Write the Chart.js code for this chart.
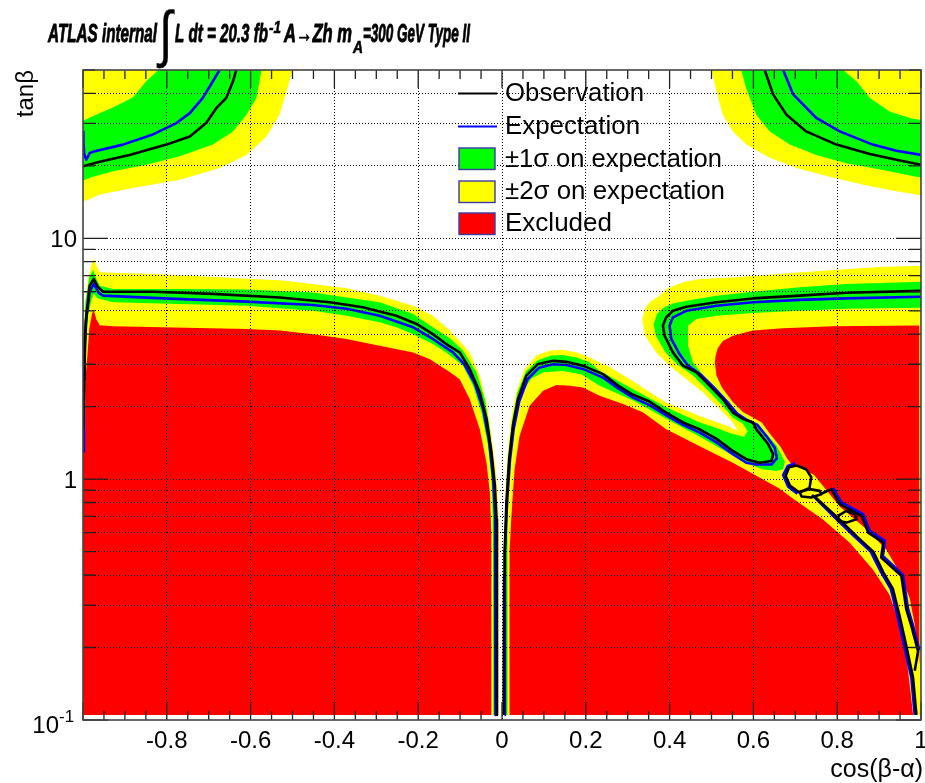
<!DOCTYPE html>
<html>
<head>
<meta charset="utf-8">
<script src="https://cdn.jsdelivr.net/npm/chart.js@4/dist/chart.umd.min.js"></script>
<style>
  html, body { margin: 0; padding: 0; background: #ffffff; }
  #wrap { width: 925px; height: 783px; }
</style>
</head>
<body>
<div id="wrap"><canvas id="c" width="925" height="783"></canvas></div>
<script>
// ---- axis ticks and labels ----
const xTickValues = [-0.8, -0.6, -0.4, -0.2, 0, 0.2, 0.4, 0.6, 0.8, 1];
const xTickLabels = ['-0.8', '-0.6', '-0.4', '-0.2', '0', '0.2', '0.4', '0.6', '0.8', '1'];
const xGridValues = [-0.8, -0.6, -0.4, -0.2, 0, 0.2, 0.4, 0.6, 0.8];
const yTickValues = [0.1, 1, 10];
const yTickLabels = [['10', '-1'], ['1', ''], ['10', '']];
const yGridValues = [0.2, 0.3, 0.4, 0.5, 0.6, 0.7, 0.8, 0.9, 1, 2, 3, 4, 5, 6, 7, 8, 9, 10, 20, 30, 40];

// ---- contours, points are [cos(beta-alpha), tan(beta)] ----
// top-left corner
const tlYellowArea = [[-1,50],[-0.50,50],[-0.515,40.3],[-0.531,32.6],[-0.562,26.5],[-0.61,22.2],[-0.674,19.6],[-0.769,17.5],[-0.888,16.1],[-0.96,15.2],[-0.99,14.4],[-1,14.3]];
const tlGreenArea = [[-0.574,50],[-0.586,38.3],[-0.61,32.6],[-0.642,27.8],[-0.69,24.5],[-0.769,21.9],[-0.849,20.2],[-0.928,19.0],[-0.976,18.0],[-1,17.4],[-1,30.8],[-0.977,32.1],[-0.929,34.9],[-0.881,38.4],[-0.849,44.9],[-0.82,50]];
const tlObserved = [[-0.634,50],[-0.642,44.9],[-0.658,38.3],[-0.682,34.7],[-0.706,30.1],[-0.745,26.5],[-0.801,24.5],[-0.889,22.2],[-0.96,20.8],[-1,19.9]];
const tlExpected = [[-0.674,50],[-0.69,44.9],[-0.714,38.3],[-0.745,33.1],[-0.777,30.1],[-0.833,27.0],[-0.905,24.5],[-0.976,22.9],[-0.984,22.6],[-0.992,21.2],[-0.997,22.3],[-0.999,25],[-0.999,28]];

// top-right corner
const trYellowArea = [[0.50,50],[0.512,40.6],[0.527,32.6],[0.551,27.8],[0.583,24.5],[0.639,21.6],[0.703,19.6],[0.782,18.0],[0.862,16.7],[0.941,15.7],[0.989,15.2],[1,15.1],[1,50]];
const trGreenArea = [[0.571,50],[0.583,41.9],[0.607,32.6],[0.639,27.8],[0.687,24.5],[0.75,22.2],[0.822,20.5],[0.909,19.2],[0.989,18.0],[1,17.9],[1,31.0],[0.973,31.6],[0.925,33.6],[0.878,38.3],[0.846,44.9],[0.814,50]];
const trObserved = [[0.627,50],[0.647,39.6],[0.679,32.6],[0.726,27.8],[0.798,24.5],[0.878,22.4],[0.941,21.2],[1,20.2]];
const trExpected = [[0.671,50],[0.695,39.6],[0.75,31.6],[0.806,27.8],[0.885,24.5],[0.941,23.1],[1,22.2]];

// left lobe (cos < 0)
const lYellowArea = [[-1,0.105],[-1,3.0],[-0.996,5.0],[-0.988,6.8],[-0.978,8.0],[-0.974,8.2],[-0.966,7.6],[-0.96,7.23],[-0.928,7.2],[-0.809,7.1],[-0.61,6.8],[-0.53,6.7],[-0.451,6.47],[-0.371,6.2],[-0.292,5.78],[-0.212,5.25],[-0.165,4.77],[-0.133,4.27],[-0.124,4.14],[-0.101,3.75],[-0.077,3.36],[-0.053,2.69],[-0.037,2.08],[-0.025,1.51],[-0.015,1.10],[-0.010,0.85],[-0.007,0.58],[-0.0085,0.45],[-0.0085,0.105]];
const lGreenArea = [[-1,0.105],[-1,3.5],[-0.994,5.5],[-0.985,6.9],[-0.976,7.4],[-0.968,6.8],[-0.96,6.36],[-0.928,6.16],[-0.769,6.16],[-0.61,6.13],[-0.451,5.96],[-0.371,5.68],[-0.292,5.43],[-0.212,4.85],[-0.165,4.27],[-0.124,3.85],[-0.093,3.42],[-0.061,2.78],[-0.041,2.15],[-0.029,1.61],[-0.019,1.10],[-0.0135,0.75],[-0.0095,0.58],[-0.0095,0.105]];
const lInnerYellowArea = [[-1,0.105],[-1,1.3],[-0.995,3.0],[-0.988,4.8],[-0.98,5.5],[-0.974,5.9],[-0.966,5.65],[-0.96,5.6],[-0.928,5.43],[-0.769,5.34],[-0.61,5.25],[-0.451,5.0],[-0.371,4.77],[-0.292,4.48],[-0.252,4.27],[-0.212,4.0],[-0.165,3.64],[-0.133,3.36],[-0.093,2.96],[-0.069,2.44],[-0.049,1.89],[-0.033,1.37],[-0.025,1.0],[-0.022,0.68],[-0.0205,0.105]];
const lRedArea = [[-1,0.105],[-1,1.25],[-0.995,1.6],[-0.995,2.5],[-0.99,3.2],[-0.985,4.2],[-0.978,4.9],[-0.974,5.0],[-0.968,4.6],[-0.96,4.36],[-0.928,4.31],[-0.61,4.2],[-0.53,4.14],[-0.451,4.0],[-0.371,3.82],[-0.292,3.58],[-0.212,3.36],[-0.172,3.15],[-0.124,2.78],[-0.101,2.6],[-0.077,2.15],[-0.053,1.61],[-0.037,1.17],[-0.029,0.88],[-0.0253,0.58],[-0.0253,0.105]];
const lObserved = [[-1,1.6],[-0.997,2.6],[-0.996,3.7],[-0.992,4.77],[-0.984,6.36],[-0.974,6.78],[-0.965,6.3],[-0.952,6.0],[-0.833,6.0],[-0.69,5.88],[-0.53,5.68],[-0.411,5.43],[-0.332,5.17],[-0.252,4.77],[-0.204,4.41],[-0.165,4.0],[-0.133,3.64],[-0.101,3.36],[-0.077,2.87],[-0.053,2.29],[-0.037,1.78],[-0.025,1.29],[-0.017,0.94],[-0.013,0.68],[-0.012,0.105]];
const lExpected = [[-1,1.3],[-0.998,2.5],[-0.993,4.5],[-0.984,6.0],[-0.974,6.47],[-0.963,5.95],[-0.952,5.78],[-0.809,5.63],[-0.61,5.46],[-0.451,5.29],[-0.371,5.1],[-0.292,4.77],[-0.212,4.27],[-0.165,3.82],[-0.117,3.36],[-0.09,3.0],[-0.065,2.5],[-0.045,1.95],[-0.031,1.45],[-0.021,1.0],[-0.0165,0.7],[-0.0155,0.105]];

// right lobe (cos > 0): hill, descending band, fold and upper band
const rYellowArea = [[0.002,0.105],[0.003,0.5],[0.0064,0.65],[0.0088,0.94],[0.014,1.29],[0.022,1.78],[0.034,2.29],[0.054,2.87],[0.082,3.26],[0.114,3.42],[0.146,3.45],[0.178,3.36],[0.209,3.2],[0.233,3.05],[0.257,2.92],[0.313,2.55],[0.352,2.3],[0.392,2.08],[0.472,1.83],[0.535,1.67],[0.563,1.59],[0.551,1.72],[0.52,1.95],[0.48,2.29],[0.44,2.6],[0.40,2.96],[0.368,3.36],[0.341,3.94],[0.335,4.62],[0.341,5.1],[0.352,5.43],[0.376,5.78],[0.392,6.16],[0.432,6.57],[0.472,6.78],[0.551,6.88],[0.65,7.1],[0.8,7.4],[0.9,7.6],[1,7.7],[1,0.105]];
const rGreenArea = [[0.003,0.105],[0.004,0.5],[0.0075,0.65],[0.0105,0.94],[0.016,1.29],[0.025,1.78],[0.037,2.29],[0.057,2.8],[0.085,3.12],[0.118,3.26],[0.146,3.28],[0.178,3.2],[0.209,3.06],[0.233,2.82],[0.313,2.36],[0.392,1.99],[0.472,1.72],[0.512,1.63],[0.545,1.55],[0.578,1.5],[0.586,1.58],[0.575,1.7],[0.551,1.8],[0.525,2.03],[0.49,2.35],[0.455,2.7],[0.42,2.98],[0.39,3.36],[0.367,3.94],[0.362,4.4],[0.37,4.85],[0.385,5.15],[0.41,5.38],[0.45,5.55],[0.512,5.78],[0.599,6.0],[0.71,6.27],[0.822,6.47],[1,6.6],[1,0.105]];
const rInnerYellowArea = [[0.012,0.105],[0.012,0.5],[0.014,0.65],[0.017,0.94],[0.022,1.29],[0.031,1.78],[0.045,2.25],[0.07,2.62],[0.1,2.78],[0.146,2.81],[0.19,2.72],[0.233,2.44],[0.313,2.12],[0.392,1.78],[0.472,1.5],[0.512,1.37],[0.57,1.2],[0.62,1.1],[0.655,1.08],[0.671,1.1],[0.675,1.18],[0.668,1.25],[0.655,1.38],[0.628,1.56],[0.612,1.7],[0.59,1.76],[0.565,1.87],[0.54,2.1],[0.512,2.38],[0.48,2.7],[0.456,3.05],[0.444,3.58],[0.444,4.34],[0.464,4.62],[0.512,4.77],[0.599,4.9],[0.71,5.0],[0.822,5.1],[1,5.15],[1,0.105]];
const rRedAreaLow = [[0.018,0.105],[0.018,0.5],[0.022,0.68],[0.030,1.1],[0.042,1.51],[0.066,2.02],[0.098,2.33],[0.13,2.46],[0.162,2.44],[0.193,2.4],[0.233,2.22],[0.289,2.05],[0.337,1.89],[0.392,1.61],[0.472,1.37],[0.551,1.17],[0.591,1.07],[0.631,0.98],[0.66,0.92],[0.695,0.83],[0.766,0.68],[0.83,0.545],[0.886,0.42],[0.925,0.33],[0.949,0.25],[0.965,0.185],[0.977,0.122],[0.981,0.105]];
const rRedAreaHigh = [[0.996,4.35],[0.79,4.31],[0.671,4.23],[0.599,4.14],[0.551,3.94],[0.527,3.75],[0.515,3.5],[0.51,3.26],[0.508,3.05],[0.512,2.69],[0.525,2.4],[0.55,2.1],[0.575,1.9],[0.6,1.8],[0.62,1.72],[0.64,1.54],[0.665,1.36],[0.68,1.22],[0.69,1.16],[0.71,1.12],[0.745,1.04],[0.806,0.77],[0.87,0.62],[0.917,0.51],[0.949,0.41],[0.973,0.32],[0.985,0.25],[0.993,0.195],[0.996,0.17]];
const rObserved = [[0.004,0.105],[0.005,0.4],[0.0064,0.5],[0.0105,0.8],[0.017,1.21],[0.026,1.67],[0.038,2.15],[0.058,2.69],[0.086,3.01],[0.122,3.1],[0.154,3.07],[0.193,2.96],[0.241,2.73],[0.281,2.42],[0.313,2.24],[0.352,2.1],[0.392,1.89],[0.432,1.72],[0.472,1.61],[0.512,1.47],[0.551,1.31],[0.583,1.21],[0.615,1.17],[0.643,1.19],[0.647,1.27],[0.635,1.4],[0.607,1.61],[0.599,1.72],[0.575,1.78],[0.551,1.89],[0.527,2.15],[0.496,2.44],[0.464,2.78],[0.432,2.96],[0.408,3.36],[0.388,3.94],[0.384,4.34],[0.392,4.7],[0.408,5.0],[0.44,5.2],[0.512,5.43],[0.599,5.63],[0.71,5.78],[0.822,5.94],[1,6.05]];
const rExpected = [[0.006,0.105],[0.007,0.5],[0.012,0.8],[0.019,1.2],[0.028,1.62],[0.041,2.1],[0.061,2.6],[0.088,2.9],[0.122,3.0],[0.154,2.98],[0.193,2.87],[0.241,2.64],[0.281,2.36],[0.313,2.18],[0.352,2.03],[0.392,1.84],[0.432,1.68],[0.472,1.56],[0.512,1.42],[0.551,1.27],[0.583,1.17],[0.607,1.15],[0.643,1.15],[0.656,1.22],[0.651,1.35],[0.631,1.51],[0.609,1.68],[0.585,1.76],[0.561,1.87],[0.537,2.1],[0.506,2.4],[0.474,2.72],[0.444,2.96],[0.424,3.3],[0.404,3.82],[0.40,4.34],[0.408,4.7],[0.44,5.0],[0.512,5.25],[0.599,5.43],[0.71,5.55],[0.822,5.63],[1,5.72]];

// narrow channel towards cos = 1 at low tan(beta)
const chObservedA = [[0.745,0.85],[0.798,0.70],[0.846,0.58],[0.886,0.50],[0.91,0.41],[0.933,0.35],[0.949,0.27],[0.965,0.203],[0.981,0.15],[0.989,0.105]];
const chObservedB = [[0.762,0.87],[0.786,0.909],[0.806,0.787],[0.858,0.704],[0.874,0.6],[0.91,0.545],[0.905,0.473],[0.953,0.397],[0.965,0.288],[0.977,0.246],[0.993,0.193],[0.985,0.16]];
const chExpectedA = [[0.74,0.86],[0.792,0.70],[0.84,0.58],[0.88,0.50],[0.905,0.41],[0.928,0.35],[0.944,0.27],[0.96,0.203],[0.977,0.15],[0.985,0.105]];
const chExpectedB = [[0.79,0.92],[0.81,0.80],[0.862,0.715],[0.878,0.61],[0.914,0.555],[0.909,0.48],[0.957,0.40],[0.969,0.29],[0.98,0.25],[0.996,0.195]];
const islandObs1 = [[0.703,1.14],[0.726,1.10],[0.738,1.02],[0.734,0.92],[0.71,0.88],[0.687,0.94],[0.677,1.03],[0.685,1.12],[0.703,1.14]];
const islandObs2 = [[0.71,0.886],[0.734,0.909],[0.758,0.894],[0.762,0.866],[0.738,0.839],[0.715,0.847],[0.71,0.886]];
const islandObs3 = [[0.802,0.704],[0.822,0.738],[0.842,0.715],[0.846,0.682],[0.822,0.66],[0.804,0.671],[0.802,0.704]];
const islandExp1 = [[0.70,1.165],[0.682,1.135],[0.671,1.04],[0.683,0.93],[0.705,0.87]];

// ---- colours ----
const RED = '#ff0000', YELLOW = '#ffff00', GREEN = '#00ff00', BLUE = '#0000ff', BLACK = '#000000';

const toXY = arr => arr.map(([x, y]) => ({ x, y }));
function area(data, color, order) {
  return { data: toXY(data), backgroundColor: color, borderColor: 'transparent', borderWidth: 0,
           fill: 'shape', pointRadius: 0, tension: 0, order };
}
function curve(data, color, order) {
  return { data: toXY(data), borderColor: color, borderWidth: 2.6, fill: false,
           pointRadius: 0, tension: 0, order, borderJoinStyle: 'round', borderCapStyle: 'butt' };
}

const datasets = [
  area(tlYellowArea, YELLOW, 60), area(trYellowArea, YELLOW, 60),
  area(lYellowArea, YELLOW, 60), area(rYellowArea, YELLOW, 60),
  area(tlGreenArea, GREEN, 50), area(trGreenArea, GREEN, 50),
  area(lGreenArea, GREEN, 50), area(rGreenArea, GREEN, 50),
  area(lInnerYellowArea, YELLOW, 40), area(rInnerYellowArea, YELLOW, 40),
  area(lRedArea, RED, 30), area(rRedAreaLow, RED, 30), area(rRedAreaHigh, RED, 30),
  curve(tlExpected, BLUE, 20), curve(trExpected, BLUE, 20), curve(lExpected, BLUE, 20),
  curve(rExpected, BLUE, 20), curve(chExpectedA, BLUE, 20), curve(chExpectedB, BLUE, 20),
  curve(islandExp1, BLUE, 20),
  curve(tlObserved, BLACK, 10), curve(trObserved, BLACK, 10), curve(lObserved, BLACK, 10),
  curve(rObserved, BLACK, 10), curve(chObservedA, BLACK, 10), curve(chObservedB, BLACK, 10),
  curve(islandObs1, BLACK, 10), curve(islandObs2, BLACK, 10), curve(islandObs3, BLACK, 10)
];

const FONT = '"Liberation Sans", Arial, Helvetica, sans-serif';

// draws text squeezed or stretched to span x0..x1; optional outline thickens the strokes
function fitText(ctx, text, x0, x1, base, font, outline) {
  ctx.font = font;
  const w = ctx.measureText(text).width;
  ctx.save();
  ctx.translate(x0, base);
  ctx.scale((x1 - x0) / w, 1);
  ctx.textAlign = 'left';
  ctx.textBaseline = 'alphabetic';
  ctx.fillText(text, 0, 0);
  if (outline) {
    ctx.lineWidth = outline;
    ctx.strokeStyle = ctx.fillStyle;
    ctx.lineJoin = 'round';
    ctx.strokeText(text, 0, 0);
  }
  ctx.restore();
}

// frame, inward tick marks, tick labels, titles and legend
const decorations = {
  id: 'decorations',
  afterDraw(chart) {
    const { ctx, chartArea: a, scales: { x, y } } = chart;
    ctx.save();
    ctx.fillStyle = '#000';

    // tick marks on all four sides, pointing into the frame
    ctx.strokeStyle = '#222';
    ctx.lineWidth = 1.3;
    ctx.beginPath();
    for (let i = -20; i <= 20; i++) {
      const v = i * 0.05;
      const px = x.getPixelForValue(v);
      const len = (i % 4 === 0) ? 18 : 9;
      ctx.moveTo(px, a.bottom); ctx.lineTo(px, a.bottom - len);
      ctx.moveTo(px, a.top); ctx.lineTo(px, a.top + len);
    }
    for (const dec of [0.1, 1, 10]) {
      for (let m = 1; m <= 9; m++) {
        const v = m * dec;
        if (v > 50.0001) continue;
        const py = y.getPixelForValue(v);
        const len = m === 1 ? 25 : 12;
        ctx.moveTo(a.left, py); ctx.lineTo(a.left + len, py);
        ctx.moveTo(a.right, py); ctx.lineTo(a.right - len, py);
      }
    }
    ctx.stroke();

    // frame
    ctx.strokeStyle = '#444';
    ctx.lineWidth = 1.6;
    ctx.strokeRect(a.left, a.top, a.right - a.left, a.bottom - a.top);

    // x tick labels
    ctx.font = '24px ' + FONT;
    ctx.textAlign = 'center';
    ctx.textBaseline = 'alphabetic';
    xTickValues.forEach((v, i) => {
      ctx.fillText(xTickLabels[i], x.getPixelForValue(v), a.bottom + 28);
    });

    // y tick labels
    yTickValues.forEach((v, i) => {
      const py = y.getPixelForValue(v);
      const [base, sup] = yTickLabels[i];
      ctx.font = '24px ' + FONT;
      if (sup) {
        ctx.textAlign = 'right';
        ctx.fillText(base, 59, py + 13);
        ctx.font = '17px ' + FONT;
        ctx.textAlign = 'left';
        ctx.fillText(sup, 59, py + 2);
      } else {
        ctx.textAlign = 'right';
        ctx.fillText(base, 77, py + 8.5);
      }
    });

    // axis titles
    ctx.font = '25px ' + FONT;
    ctx.textAlign = 'right';
    ctx.fillText('cos(\u03b2-\u03b1)', 923, 777);
    ctx.save();
    ctx.translate(33, 70);
    ctx.rotate(-Math.PI / 2);
    ctx.textAlign = 'right';
    ctx.font = '24px ' + FONT;
    ctx.fillText('tan\u03b2', 0, 0);
    ctx.restore();

    // title
    const tf = 'bold italic 25px ' + FONT;
    const tfs = 'bold italic 17px ' + FONT;
    fitText(ctx, 'ATLAS internal', 48, 157, 41.5, tf, 0.9);
    fitText(ctx, '\u222b', 159, 172, 55, '62px ' + FONT, 0.4);
    fitText(ctx, 'L dt = 20.3 fb', 175, 268, 41.5, tf, 0.9);
    fitText(ctx, '-1', 269, 281, 33, tfs, 0.6);
    fitText(ctx, 'A\u2192Zh m', 284, 352, 41.5, tf, 0.9);
    fitText(ctx, 'A', 353, 363, 53, tfs, 0.6);
    fitText(ctx, '=300 GeV Type II', 363, 470, 41.5, tf, 0.9);

    // legend
    ctx.lineWidth = 2.2;
    ctx.strokeStyle = BLACK;
    ctx.beginPath(); ctx.moveTo(458, 93.5); ctx.lineTo(497, 93.5); ctx.stroke();
    ctx.strokeStyle = BLUE;
    ctx.beginPath(); ctx.moveTo(458, 126.5); ctx.lineTo(497, 126.5); ctx.stroke();
    const boxes = [[GREEN, 148], [YELLOW, 181], [RED, 213]];
    ctx.lineWidth = 1.4;
    ctx.strokeStyle = '#3a3aa8';
    for (const [c, top] of boxes) {
      ctx.fillStyle = c;
      ctx.fillRect(459, top, 36, 21.5);
      ctx.strokeRect(459, top, 36, 21.5);
    }
    ctx.fillStyle = '#000';
    const lf = '25px ' + FONT;
    fitText(ctx, 'Observation', 505, 644, 101, lf);
    fitText(ctx, 'Expectation', 505, 640, 134, lf);
    fitText(ctx, '\u00b11\u03c3 on expectation', 505, 722, 166.5, lf);
    fitText(ctx, '\u00b12\u03c3 on expectation', 505, 725, 198.5, lf);
    fitText(ctx, 'Excluded', 505, 612, 230.5, lf);

    ctx.restore();
  }
};

new Chart(document.getElementById('c'), {
  type: 'line',
  data: { datasets },
  options: {
    responsive: false,
    devicePixelRatio: 1,
    animation: false,
    events: [],
    layout: { padding: { left: 83, right: 4, top: 70, bottom: 63 } },
    plugins: { legend: { display: false }, tooltip: { enabled: false }, title: { display: false } },
    scales: {
      x: {
        type: 'linear', min: -1, max: 1,
        afterBuildTicks: s => { s.ticks = xGridValues.map(v => ({ value: v })); },
        ticks: { display: false },
        grid: { color: '#000', lineWidth: 1, drawTicks: false, z: 1 },
        border: { display: false, dash: [1, 2] }
      },
      y: {
        type: 'logarithmic', min: 0.1, max: 50,
        afterBuildTicks: s => { s.ticks = yGridValues.map(v => ({ value: v })); },
        ticks: { display: false },
        grid: { color: '#000', lineWidth: 1, drawTicks: false, z: 1 },
        border: { display: false, dash: [1, 2] }
      }
    }
  },
  plugins: [decorations]
});
</script>
</body>
</html>
